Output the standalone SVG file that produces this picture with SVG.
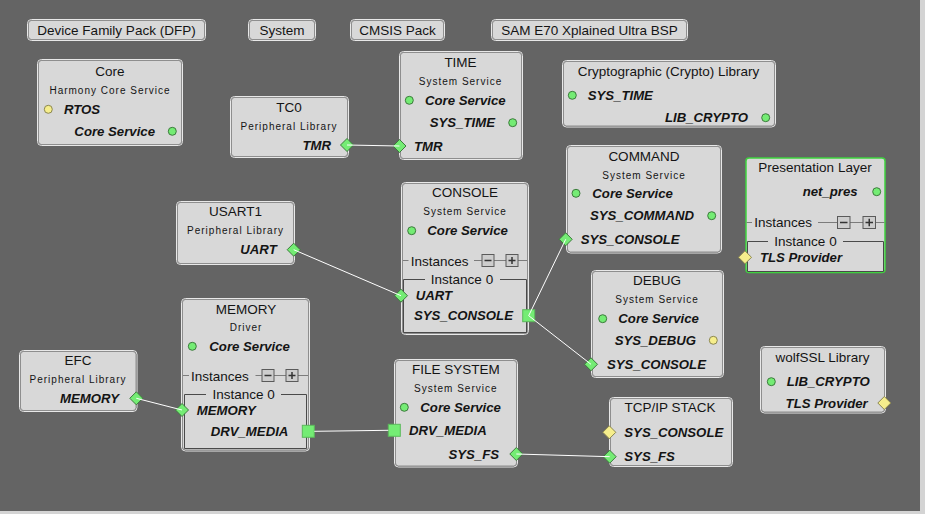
<svg xmlns="http://www.w3.org/2000/svg" xmlns:xlink="http://www.w3.org/1999/xlink" width="925" height="514" viewBox="0 0 925 514">
<style>
text{font-family:"Liberation Sans",Arial,sans-serif;fill:#141414}
.t{font-size:13.5px;text-anchor:middle}
.s{font-size:10px;letter-spacing:1px;text-anchor:middle}
.p{font-size:13.2px;font-weight:bold;font-style:italic}
.e{text-anchor:end}
.i{font-size:13.5px}
.il{font-size:13.5px;text-anchor:middle}
.box{fill:#d8d8d8;stroke:#8e8e8e;stroke-width:1}
.hl{fill:none;stroke:#e8e8e8;stroke-width:1}
.green{fill:#d8d8d8;stroke:#3fd23f;stroke-width:1.5}
.pg{fill:#74ec74;stroke:#3c7a3c;stroke-width:1}
.py{fill:#f6ee8c;stroke:#8a8650;stroke-width:1}
.sq{fill:#74ec74;stroke:#5cb85c;stroke-width:1}
.row{stroke:#7c7c7c;stroke-width:1;fill:none}
.ib{stroke:#4a4a4a;stroke-width:1;fill:none}
.ctl{fill:#cdcdcd;stroke:#5a5a5a;stroke-width:1}
.sym{stroke:#333;stroke-width:1.5;fill:none}
.conn line{stroke:#ffffff;stroke-width:1;fill:none}
.btn{fill:#d8d8d8;stroke:#8e8e8e;stroke-width:1}
</style>
<defs>
<path id="dia" d="M0,-6.5 L6.5,0 L0,6.5 L-6.5,0 Z"/>
</defs>
<rect x="0" y="0" width="925" height="514" fill="#646464"/>
<rect x="920" y="0" width="5" height="514" fill="#d4d4d4"/>
<rect x="0" y="511" width="925" height="3" fill="#d4d4d4"/>

<g id="buttons">
<g id="btn-dfp"><rect x="27.5" y="19.5" width="178" height="21" rx="4" class="hl"/><rect x="28.5" y="20.5" width="176" height="19" rx="3" class="btn"/><text class="t" x="116.5" y="34.7">Device Family Pack (DFP)</text></g>
<g id="btn-system"><rect x="248.5" y="19.5" width="67" height="21" rx="4" class="hl"/><rect x="249.5" y="20.5" width="65" height="19" rx="3" class="btn"/><text class="t" x="282" y="34.7">System</text></g>
<g id="btn-cmsis"><rect x="350.5" y="19.5" width="94" height="21" rx="4" class="hl"/><rect x="351.5" y="20.5" width="92" height="19" rx="3" class="btn"/><text class="t" x="397.5" y="34.7">CMSIS Pack</text></g>
<g id="btn-bsp"><rect x="491.5" y="19.5" width="196" height="21" rx="4" class="hl"/><rect x="492.5" y="20.5" width="194" height="19" rx="3" class="btn"/><text class="t" x="589.5" y="34.7">SAM E70 Xplained Ultra BSP</text></g>
</g>

<g id="node-core">
<rect x="37.5" y="59.5" width="145" height="86" rx="4" class="hl"/>
<rect x="38.5" y="60.5" width="143" height="84" rx="3" class="box"/>
<text class="t" x="110" y="75.7">Core</text>
<text class="s" x="110" y="93.5">Harmony Core Service</text>
<circle cx="48.3" cy="109.3" r="4" class="py"/>
<text class="p" x="64" y="114">RTOS</text>
<text class="p e" x="155" y="135.8">Core Service</text>
<circle cx="172.3" cy="131.3" r="4" class="pg"/>
</g>

<g id="node-tc0">
<rect x="230.5" y="96.5" width="118" height="61" rx="4" class="hl"/>
<rect x="231.5" y="97.5" width="116" height="59" rx="3" class="box"/>
<text class="t" x="289" y="111.7">TC0</text>
<text class="s" x="289" y="129.5">Peripheral Library</text>
<text class="p e" x="331" y="149.5">TMR</text>
<use xlink:href="#dia" x="347" y="145" class="pg"/>
</g>

<g id="node-time">
<rect x="399.5" y="51.5" width="123" height="108" rx="4" class="hl"/>
<rect x="400.5" y="52.5" width="121" height="106" rx="3" class="box"/>
<text class="t" x="460.5" y="66.7">TIME</text>
<text class="s" x="460.5" y="84.5">System Service</text>
<circle cx="409.3" cy="100.3" r="4" class="pg"/>
<text class="p" x="425" y="105">Core Service</text>
<text class="p e" x="495" y="127">SYS_TIME</text>
<circle cx="512.7" cy="122.7" r="4" class="pg"/>
<use xlink:href="#dia" x="399.5" y="146" class="pg"/>
<text class="p" x="414" y="150.5">TMR</text>
</g>

<g id="node-crypto">
<rect x="562.5" y="60.5" width="213" height="66.5" rx="4" class="hl"/>
<rect x="563.5" y="61.5" width="211" height="64.5" rx="3" class="box"/>
<text class="t" x="668.5" y="75.7">Cryptographic (Crypto) Library</text>
<circle cx="572.3" cy="95.3" r="4" class="pg"/>
<text class="p" x="587.7" y="100">SYS_TIME</text>
<text class="p e" x="748" y="122.2">LIB_CRYPTO</text>
<circle cx="765.7" cy="117.7" r="4" class="pg"/>
</g>

<g id="node-command">
<rect x="566.5" y="145.5" width="155" height="107.5" rx="4" class="hl"/>
<rect x="567.5" y="146.5" width="153" height="105.5" rx="3" class="box"/>
<text class="t" x="644" y="160.7">COMMAND</text>
<text class="s" x="644" y="178.5">System Service</text>
<circle cx="576" cy="193.3" r="4" class="pg"/>
<text class="p" x="592.3" y="198">Core Service</text>
<text class="p e" x="694" y="220.2">SYS_COMMAND</text>
<circle cx="711.7" cy="215.7" r="4" class="pg"/>
<use xlink:href="#dia" x="565.7" y="239.3" class="pg"/>
<text class="p" x="580.7" y="243.8">SYS_CONSOLE</text>
</g>

<g id="node-presentation">
<rect x="746" y="158" width="139" height="114.5" rx="3" class="green"/>
<text class="t" x="815" y="172.4">Presentation Layer</text>
<text class="p e" x="857.7" y="196.2">net_pres</text>
<circle cx="876.7" cy="191.7" r="4" class="pg"/>
<path class="row" d="M746.5,222.5 H752 M818,222.5 H837.5 M850,222.5 H863 M875.5,222.5 H884.5"/>
<text class="i" x="754.3" y="227.3">Instances</text>
<rect x="837.5" y="216.5" width="12.5" height="12" class="ctl"/>
<path class="sym" d="M840,222.5 H847.5"/>
<rect x="863" y="216.5" width="12.5" height="12" class="ctl"/>
<path class="sym" d="M865.5,222.5 H873 M869.25,218.8 V226.2"/>
<path class="ib" d="M768,241.5 H747.5 V271.5 H883.5 V241.5 H843"/>
<text class="il" x="805.5" y="246">Instance 0</text>
<use xlink:href="#dia" x="745" y="257.3" class="py"/>
<text class="p" x="760" y="261.8">TLS Provider</text>
</g>

<g id="node-console">
<rect x="401.5" y="182.5" width="127" height="152" rx="4" class="hl"/>
<rect x="402.5" y="183.5" width="125" height="150" rx="3" class="box"/>
<text class="t" x="465" y="197">CONSOLE</text>
<text class="s" x="465" y="215.2">System Service</text>
<circle cx="411.7" cy="230.7" r="4" class="pg"/>
<text class="p" x="427.3" y="235.2">Core Service</text>
<path class="row" d="M403,260.5 H408.5 M474,260.5 H482 M494,260.5 H506 M518,260.5 H527"/>
<text class="i" x="410.7" y="265.5">Instances</text>
<rect x="482" y="254.5" width="12" height="12" class="ctl"/>
<path class="sym" d="M484.5,260.5 H491.5"/>
<rect x="506" y="254.5" width="12" height="12" class="ctl"/>
<path class="sym" d="M508.5,260.5 H515.5 M512,257 V264"/>
<path class="ib" d="M425,279.5 H403.5 V332.5 H526.5 V279.5 H500"/>
<text class="il" x="462" y="283.8">Instance 0</text>
<use xlink:href="#dia" x="401" y="295.7" class="pg"/>
<text class="p" x="415.7" y="300.2">UART</text>
<text class="p" x="414" y="319.8">SYS_CONSOLE</text>
<rect x="522.7" y="309.7" width="12" height="12" class="sq"/>
</g>

<g id="node-usart1">
<rect x="176.5" y="201.5" width="118" height="63" rx="4" class="hl"/>
<rect x="177.5" y="202.5" width="116" height="61" rx="3" class="box"/>
<text class="t" x="235.5" y="216.4">USART1</text>
<text class="s" x="235.5" y="234.2">Peripheral Library</text>
<text class="p e" x="276.7" y="254.2">UART</text>
<use xlink:href="#dia" x="293.7" y="249.7" class="pg"/>
</g>

<g id="node-debug">
<rect x="591.5" y="270.5" width="132" height="107" rx="4" class="hl"/>
<rect x="592.5" y="271.5" width="130" height="105" rx="3" class="box"/>
<text class="t" x="657" y="285.4">DEBUG</text>
<text class="s" x="657" y="303.2">System Service</text>
<circle cx="602.7" cy="318.7" r="4" class="pg"/>
<text class="p" x="618.3" y="323.2">Core Service</text>
<text class="p e" x="696" y="344.8">SYS_DEBUG</text>
<circle cx="713.3" cy="340.3" r="4" class="py"/>
<use xlink:href="#dia" x="591" y="364.3" class="pg"/>
<text class="p" x="607" y="368.8">SYS_CONSOLE</text>
</g>

<g id="node-memory">
<rect x="181.5" y="298.5" width="128" height="152.5" rx="4" class="hl"/>
<rect x="182.5" y="299.5" width="126" height="150.5" rx="3" class="box"/>
<text class="t" x="246" y="313.7">MEMORY</text>
<text class="s" x="246" y="331.2">Driver</text>
<circle cx="192.3" cy="346.3" r="4" class="pg"/>
<text class="p" x="209.3" y="350.8">Core Service</text>
<path class="row" d="M183,375.5 H189 M255.5,375.5 H262 M274,375.5 H286 M298,375.5 H308"/>
<text class="i" x="191" y="380.5">Instances</text>
<rect x="262" y="369.5" width="12" height="12" class="ctl"/>
<path class="sym" d="M264.5,375.5 H271.5"/>
<rect x="286" y="369.5" width="12" height="12" class="ctl"/>
<path class="sym" d="M288.5,375.5 H295.5 M292,372 V379"/>
<path class="ib" d="M206,394.5 H184.5 V448.5 H306.5 V394.5 H281"/>
<text class="il" x="243.7" y="398.8">Instance 0</text>
<use xlink:href="#dia" x="182" y="410" class="pg"/>
<text class="p" x="196.7" y="414.5">MEMORY</text>
<text class="p" x="210.7" y="435.8">DRV_MEDIA</text>
<rect x="302.3" y="425.3" width="12" height="12" class="sq"/>
</g>

<g id="node-efc">
<rect x="19.5" y="350.5" width="117.5" height="61" rx="4" class="hl"/>
<rect x="20.5" y="351.5" width="115.5" height="59" rx="3" class="box"/>
<text class="t" x="78" y="365.4">EFC</text>
<text class="s" x="78" y="383.2">Peripheral Library</text>
<text class="p e" x="119" y="402.8">MEMORY</text>
<use xlink:href="#dia" x="136.3" y="398.3" class="pg"/>
</g>

<g id="node-filesystem">
<rect x="394.5" y="359.5" width="123" height="107.5" rx="4" class="hl"/>
<rect x="395.5" y="360.5" width="121" height="105.5" rx="3" class="box"/>
<text class="t" x="455.8" y="374">FILE SYSTEM</text>
<text class="s" x="455.8" y="392.2">System Service</text>
<circle cx="404.3" cy="407.3" r="4" class="pg"/>
<text class="p" x="420.3" y="411.8">Core Service</text>
<rect x="388.3" y="424.3" width="12" height="12" class="sq"/>
<text class="p" x="409" y="434.8">DRV_MEDIA</text>
<text class="p e" x="499" y="458.5">SYS_FS</text>
<use xlink:href="#dia" x="516.3" y="454" class="pg"/>
</g>

<g id="node-tcpip">
<rect x="609.5" y="397.5" width="123" height="69" rx="4" class="hl"/>
<rect x="610.5" y="398.5" width="121" height="67" rx="3" class="box"/>
<text class="t" x="670" y="412">TCP/IP STACK</text>
<use xlink:href="#dia" x="609.3" y="432.3" class="py"/>
<text class="p" x="624.3" y="436.8">SYS_CONSOLE</text>
<use xlink:href="#dia" x="609.7" y="456.7" class="pg"/>
<text class="p" x="624.3" y="461.2">SYS_FS</text>
</g>

<g id="node-wolfssl">
<rect x="760.5" y="346.5" width="125" height="66.5" rx="4" class="hl"/>
<rect x="761.5" y="347.5" width="123" height="64.5" rx="3" class="box"/>
<text class="t" x="822.5" y="362.4">wolfSSL Library</text>
<circle cx="771.3" cy="381.7" r="4" class="pg"/>
<text class="p" x="786.7" y="386.2">LIB_CRYPTO</text>
<text class="p e" x="867.7" y="407.5">TLS Provider</text>
<use xlink:href="#dia" x="884.3" y="403" class="py"/>
</g>

<g id="connectors" class="conn">
<line x1="347" y1="145" x2="399.5" y2="146"/>
<line x1="293.7" y1="249.7" x2="401" y2="295.7"/>
<line x1="528.7" y1="315.7" x2="565.7" y2="239.3"/>
<line x1="528.7" y1="315.7" x2="591" y2="364.3"/>
<line x1="136.3" y1="398.3" x2="182" y2="410"/>
<line x1="314.3" y1="431.3" x2="388.3" y2="430.3"/>
<line x1="516.3" y1="454" x2="609.7" y2="456.7"/>
</g>
</svg>
